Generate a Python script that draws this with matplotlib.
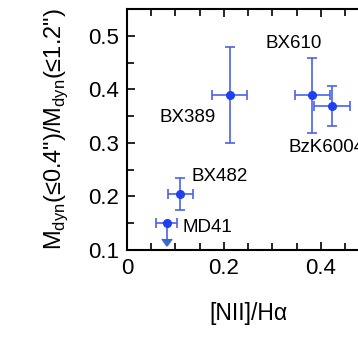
import matplotlib.pyplot as plt
from matplotlib.ticker import MultipleLocator

plt.rcParams['font.family'] = ['Liberation Sans', 'DejaVu Sans']
plt.rcParams['mathtext.fontset'] = 'custom'
plt.rcParams['mathtext.rm'] = 'Liberation Sans'

# galaxies: [NII]/Ha vs inner/outer dynamical mass ratio
names = ['BX389', 'BX610', 'BzK6004', 'BX482', 'MD41']
nii_ha = [0.212, 0.382, 0.423, 0.110, 0.082]
nii_err = [0.036, 0.036, 0.037, 0.026, 0.022]
mratio = [0.389, 0.389, 0.369, 0.204, 0.150]
mratio_err = [0.090, 0.070, 0.037, 0.030, 0.030]
upper_limit = [False, False, False, False, True]
label_x = [0.068, 0.286, 0.334, 0.133, 0.114]
label_y = [0.348, 0.485, 0.292, 0.238, 0.142]

blue = '#1f3ff0'
ebar = '#4a63e6'

fig = plt.figure(figsize=(3.58, 3.41), dpi=100)
ax = fig.add_axes([0.3547, 0.2669, 0.677, 0.7067])

for i in range(len(names)):
    ax.errorbar(nii_ha[i], mratio[i], xerr=nii_err[i], yerr=mratio_err[i],
                uplims=upper_limit[i], fmt='none', ecolor=ebar,
                elinewidth=1.2, capsize=3.5, capthick=1.2)
    ax.plot(nii_ha[i], mratio[i], 'o', color=blue, ms=5.5)
    ax.text(label_x[i], label_y[i], names[i], fontsize=13.5, va='center', ha='left')

ax.set_xlim(0, 0.5)
ax.set_ylim(0.1, 0.55)
ax.xaxis.set_minor_locator(MultipleLocator(0.05))
ax.yaxis.set_minor_locator(MultipleLocator(0.05))
ax.set_xticks([0, 0.2, 0.4])
ax.set_xticklabels(['0', '0.2', '0.4'])
ax.set_yticks([0.1, 0.2, 0.3, 0.4, 0.5])
ax.set_yticklabels(['0.1', '0.2', '0.3', '0.4', '0.5'])
ax.tick_params(which='both', direction='in', top=True, right=True, labelsize=16, width=1.2)
ax.tick_params(which='major', length=6, pad=6)
ax.tick_params(which='minor', length=5)
for s in ax.spines.values():
    s.set_linewidth(1.5)

ax.set_xlabel('[NII]/Hα', fontsize=16.5, labelpad=16)
ax.set_ylabel(r'M$_{\rm dyn}$(≤0.4")/M$_{\rm dyn}$(≤1.2")', fontsize=17, labelpad=13)

fig.savefig('out.png', dpi=100)
